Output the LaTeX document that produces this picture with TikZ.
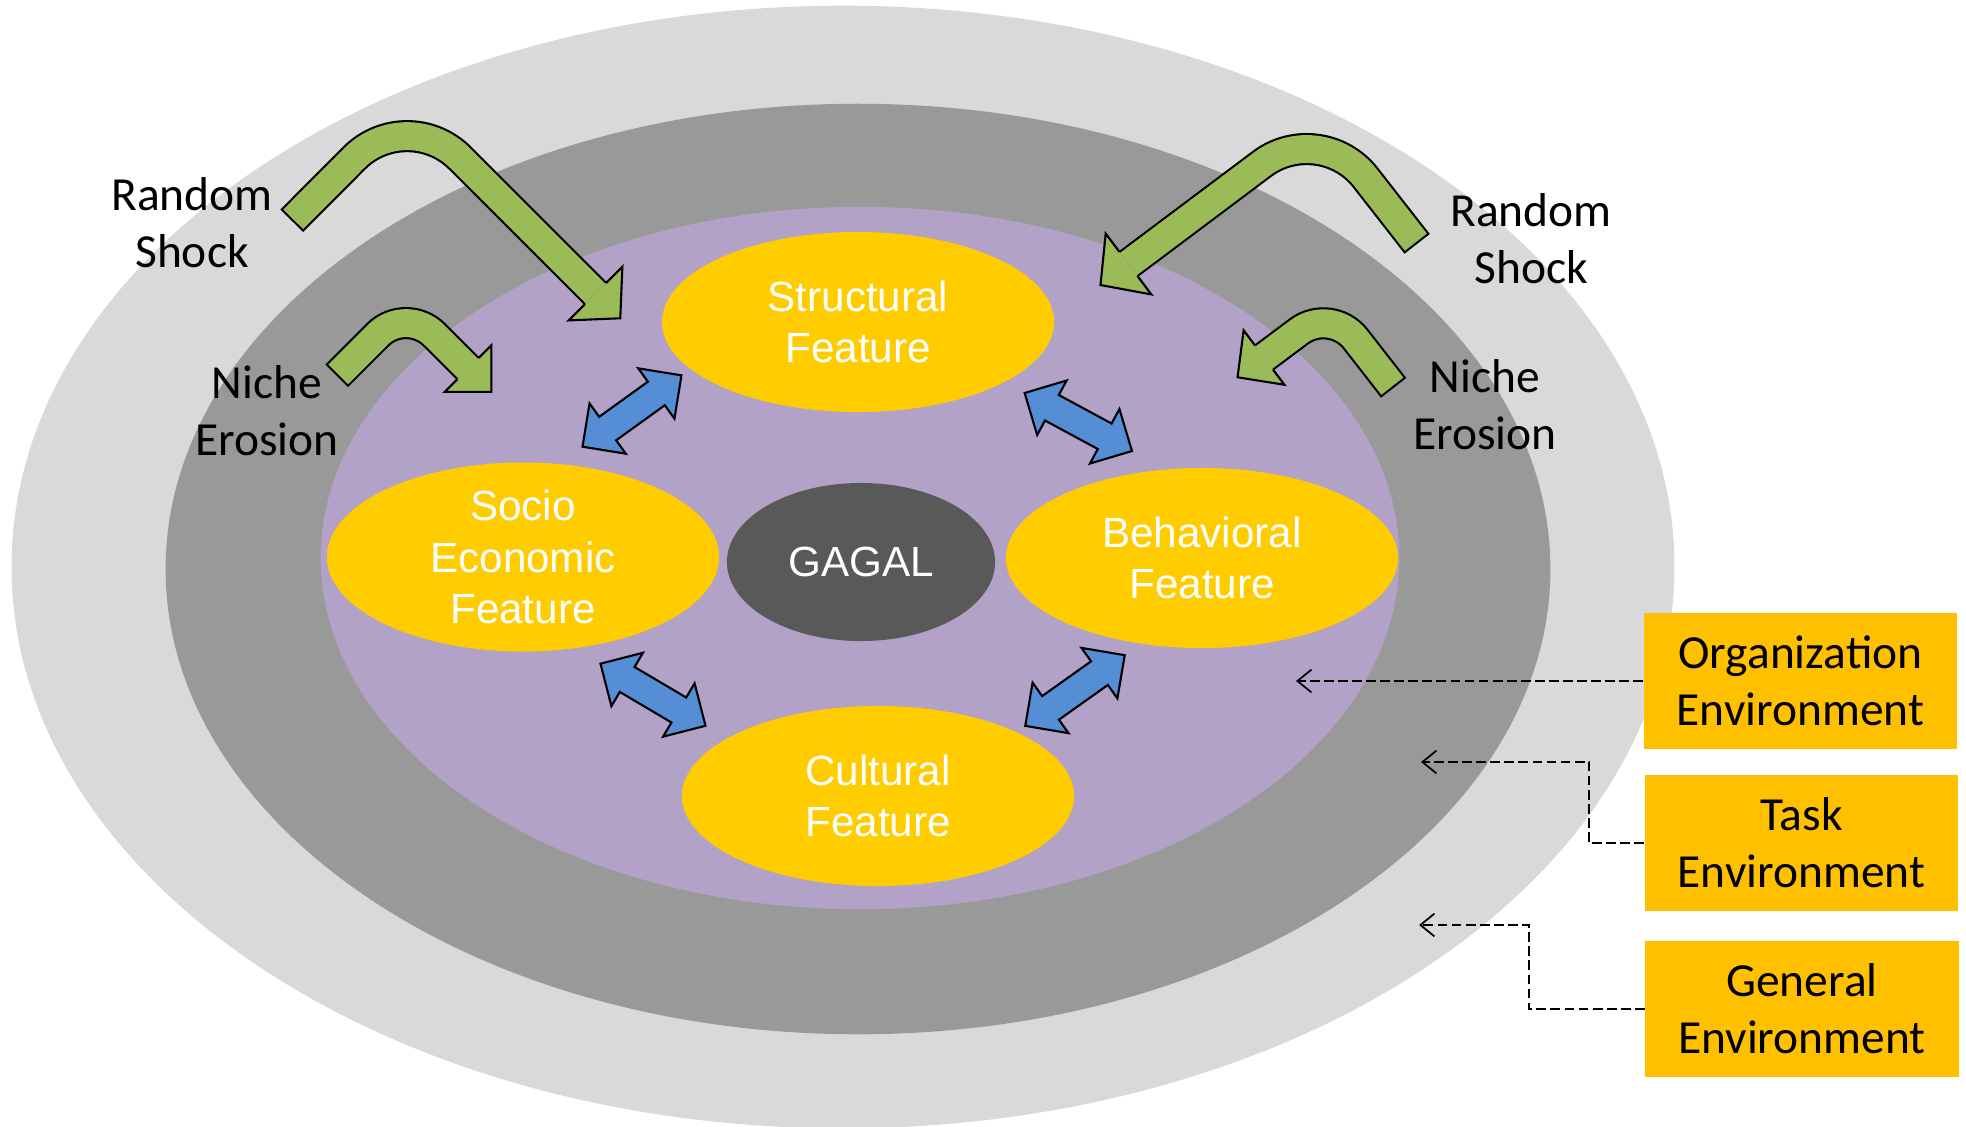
\documentclass[tikz,border=0pt]{standalone}
\usepackage{fontspec}
\setmainfont{Carlito}
\newfontfamily\arialfont{Liberation Sans}
\usetikzlibrary{arrows.meta,calc,shapes.geometric}

\definecolor{generalgray}{HTML}{D9D9D9}
\definecolor{taskgray}{HTML}{999999}
\definecolor{orgpurple}{HTML}{B3A2C7}
\definecolor{featyellow}{HTML}{FFCC00}
\definecolor{boxyellow}{HTML}{FFC000}
\definecolor{gagalgray}{HTML}{595959}
\definecolor{shockgreen}{HTML}{9BBB59}
\definecolor{linkblue}{HTML}{558ED5}

\tikzset{
  ring/.style={ellipse, inner sep=0pt},
  feature/.style={ellipse, fill=featyellow, inner sep=0pt, minimum width=3.92cm,
    minimum height=1.8cm, text=white, align=center,
    font=\arialfont\fontsize{12}{14.6}\selectfont},
  shocktext/.style={align=center, inner sep=0pt, font=\fontsize{13.5}{16.2}\selectfont},
  envbox/.style={rectangle, fill=boxyellow, inner sep=0pt, minimum width=3.13cm,
    minimum height=1.35cm, align=center, font=\fontsize{13.5}{16.2}\selectfont},
  pointer/.style={line width=0.5pt, dash pattern=on 2.8pt off 1.2pt,
    -{Straight Barb[length=4pt, width=6.5pt]}}
}

\begin{document}
\begin{tikzpicture}[x=0.01cm, y=-0.01cm]
  \useasboundingbox (0,0) rectangle (1966,1126);

  % Environment rings
  \node[ring, fill=generalgray, minimum width=16.62cm, minimum height=11.22cm] (generalring) at (843,567) {};
  \node[ring, fill=taskgray, minimum width=13.84cm, minimum height=9.30cm] (taskring) at (858,569) {};
  \node[ring, fill=orgpurple, minimum width=10.78cm, minimum height=7.02cm] (orgring) at (860,558) {};

  % Random shock and niche erosion arrows
  \foreach \sx/\sy/\cx/\cy/\ex/\ey/\rad/\hw/\hl in
    {292.5/220/407/105/595.5/293.5/0.75cm/0.38cm/0.35cm,
     337.5/375/406/306.5/468/368.5/0.4cm/0.33cm/0.33cm,
     1416.5/243/1320.5/120/1128.5/264/0.73cm/0.38cm/0.35cm,
     1393/387/1331/307.4/1264/357.5/0.4cm/0.34cm/0.33cm}
  {
    \coordinate (tail) at (\sx,\sy);
    \coordinate (bend) at (\cx,\cy);
    \coordinate (head) at (\ex,\ey);
    \coordinate (tip) at ($(head)!\hl!180:(bend)$);
    \draw[line width=0.3cm+0.6pt, rounded corners=\rad, shorten <=-0.3pt] (tail) -- (bend) -- (head);
    \draw[shockgreen, line width=0.3cm-0.6pt, rounded corners=\rad, shorten <=0.3pt] (tail) -- (bend) -- (head);
    \filldraw[fill=shockgreen, line width=0.6pt] ($(head)!0.15cm!90:(bend)$) -- ($(head)!\hw!90:(bend)$)
      -- (tip) -- ($(head)!\hw!-90:(bend)$) -- ($(head)!0.15cm!-90:(bend)$);
  }

  % Features round the core
  \node[feature] (structural) at (858,322) {Structural\\Feature};
  \node[feature] (socio) at (523,557) {Socio\\Economic\\Feature};
  \node[feature] (behavioral) at (1202,558) {Behavioral\\Feature};
  \node[feature] (cultural) at (878,796) {Cultural\\Feature};
  \node[ring, fill=gagalgray, minimum width=2.68cm, minimum height=1.58cm, text=white,
    font=\arialfont\fontsize{12}{14.6}\selectfont] (gagal) at (861,562) {GAGAL};

  % Links between features
  \foreach \bx/\by/\ba in {632/411/35.8, 1078.3/422/-28.4, 653/694.7/-30.6, 1075/690.5/35.4}
    \draw[fill=linkblue, line width=0.6pt, shift={(\bx,\by)}, rotate=\ba]
      (61,0) -- (30,31) -- (30,14.5) -- (-30,14.5) -- (-30,31) -- (-61,0)
      -- (-30,-31) -- (-30,-14.5) -- (30,-14.5) -- (30,-31) -- cycle;

  % Side labels
  \node[shocktext] (shockleft) at (192,223) {Random\\Shock};
  \node[shocktext] (nicheleft) at (267,411) {Niche\\Erosion};
  \node[shocktext] (shockright) at (1531,239) {Random\\Shock};
  \node[shocktext] (nicheright) at (1485,405) {Niche\\Erosion};

  % Environment boxes
  \node[envbox] (orgbox) at (1800.5,681) {Organization\\Environment};
  \node[envbox] (taskbox) at (1801.5,843) {Task\\Environment};
  \node[envbox] (generalbox) at (1802,1009) {General\\Environment};

  % Pointers to the rings
  \coordinate (orgtip) at (1296,681);
  \coordinate (tasktip) at (1421,762);
  \coordinate (generaltip) at (1419,925);
  \draw[pointer] (orgbox.west) -- (orgtip);
  \draw[pointer] (taskbox.west) -- ++(-55,0) |- (tasktip);
  \draw[pointer] (generalbox.west) -- ++(-116,0) |- (generaltip);
\end{tikzpicture}
\end{document}
